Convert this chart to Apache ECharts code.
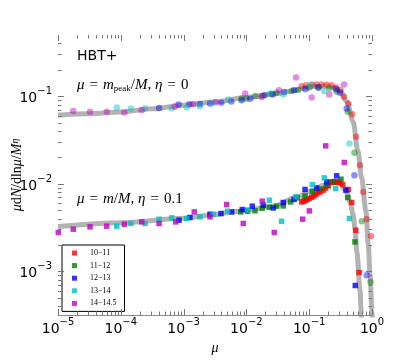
<!DOCTYPE html>
<html><head><meta charset="utf-8">
<script src="https://cdn.jsdelivr.net/npm/echarts@6/dist/echarts.min.js"></script>
<style>html,body{margin:0;padding:0;background:#fff}#c{width:415px;height:363px}</style>
</head><body><div id="c"></div>
<script>
// ---- legend / bins ----
const binLabels = ['10\u221211', '11\u221212', '12\u221213', '13\u221214', '14\u221214.5'];
const binColors = ['#ff0000', '#008000', '#0000ff', '#00bfbf', '#bf00bf'];

// ---- axis ranges / tick positions ----
const xMin = 1e-5, xMax = 1;
const yMin = 0.000316, yMax = 0.5;
const xDecades = [1e-5, 1e-4, 1e-3, 1e-2, 1e-1, 1];
const yDecades = [1e-4, 1e-3, 1e-2, 1e-1, 1];
const minorMultipliers = [2, 3, 4, 5, 6, 7, 8, 9];

// ---- fitted curves (grey) ----
const fitPeak = [[1e-5,0.0607],[3.16e-5,0.0631],[1e-4,0.0661],[3.16e-4,0.0716],[1e-3,0.0789],[3.16e-3,0.0861],[1e-2,0.0966],[0.0316,0.1074],[0.0501,0.114],[0.1,0.1276],[0.141,0.130],[0.1995,0.130],[0.251,0.1245],[0.316,0.114],[0.398,0.0861],[0.501,0.0513],[0.592,0.0242],[0.686,0.01148],[0.802,0.00479],[0.873,0.0020],[0.929,0.000942],[1.0,0.000355],[1.023,0.000282]];
const fitInfall = [[1e-5,0.00324],[1e-4,0.00359],[1e-3,0.00403],[2.51e-3,0.00437],[8.41e-3,0.00489],[0.0282,0.00557],[0.0631,0.00706],[0.1161,0.00843],[0.1675,0.00962],[0.242,0.0107],[0.309,0.01005],[0.395,0.00805],[0.447,0.00619],[0.504,0.00437],[0.536,0.00308],[0.575,0.00166],[0.644,0.000607],[0.676,0.000316],[0.692,0.000251]];

// ---- mu = m_peak/M, eta = 0 (circles) ----
const peak10_11 = [[0.0759,0.130],[0.0891,0.1337],[0.1122,0.1349],[0.1318,0.1361],[0.1585,0.1361],[0.1905,0.1349],[0.229,0.1334],[0.269,0.1259],[0.316,0.1175],[0.358,0.0982],[0.42,0.0826],[0.485,0.0622],[0.556,0.0343],[0.646,0.01626],[0.726,0.00805],[0.822,0.00393],[0.964,0.00253]];
const peak11_12 = [[8.32e-3,0.0933],[0.01,0.0933],[0.0138,0.1007],[0.0178,0.1012],[0.0251,0.1059],[0.0302,0.1096],[0.0525,0.1148],[0.0661,0.1175],[0.1,0.1259],[0.138,0.1259],[0.209,0.123],[0.275,0.1122],[0.41,0.0662],[0.525,0.0226],[0.686,0.00372],[0.946,0.000755]];
const peak12_13 = [[4.07e-4,0.0735],[8.32e-4,0.0804],[1.23e-3,0.0811],[1.82e-3,0.0813],[2.63e-3,0.0826],[3.98e-3,0.0841],[5.75e-3,0.0871],[8.41e-3,0.0899],[0.01148,0.0933],[0.0195,0.1023],[0.0263,0.1047],[0.0398,0.1119],[0.0575,0.1175],[0.0871,0.1202],[0.1413,0.1259],[0.267,0.1202],[0.309,0.1096],[0.395,0.0723],[0.525,0.0125],[0.822,0.0009]];
const peak13_14 = [[8.61e-5,0.0743],[1.45e-4,0.0723],[2.43e-4,0.0723],[6.46e-4,0.0723],[1.12e-3,0.0741],[1.82e-3,0.0769],[2.82e-3,0.0832],[5.13e-3,0.0916],[0.0238,0.1074],[0.0389,0.1047],[0.1057,0.1349],[0.1738,0.114],[0.437,0.0288]];
const peak14_145 = [[1.75e-5,0.0675],[3.24e-5,0.0662],[5.96e-5,0.0662],[1.14e-4,0.0652],[2.15e-4,0.0692],[7.24e-4,0.0759],[1.41e-3,0.0813],[3.24e-3,0.0851],[9.55e-3,0.1074],[0.0174,0.0977],[0.0331,0.1172],[0.0617,0.1637],[0.1096,0.0966],[0.209,0.1047],[0.358,0.1361]];

// ---- mu = m/M, eta = 0.1 (squares) ----
const infall10_11 = [[0.0759,0.00619],[0.0813,0.0063],[0.0871,0.00646],[0.0933,0.0066],[0.1005,0.00678],[0.1096,0.007],[0.1191,0.00724],[0.1288,0.0076],[0.1396,0.00794],[0.1514,0.0081],[0.1675,0.00843],[0.182,0.0089],[0.2014,0.00944],[0.2275,0.01033],[0.245,0.0104],[0.263,0.01047],[0.282,0.0104],[0.302,0.01033],[0.341,0.00977],[0.42,0.00859],[0.475,0.0061],[0.55,0.00294],[0.624,0.000966]];
const infall11_12 = [[8.13e-3,0.00476],[0.01047,0.00485],[0.01371,0.0049],[0.0179,0.00525],[0.0232,0.00537],[0.0303,0.00553],[0.0387,0.00557],[0.0507,0.00619],[0.0646,0.00689],[0.0857,0.00724],[0.1122,0.00813],[0.1486,0.00865],[0.19,0.00955],[0.242,0.0105],[0.321,0.01125],[0.41,0.00695],[0.536,0.00216]];
const infall12_13 = [[8.45e-4,0.00383],[1.26e-3,0.00411],[2.63e-3,0.00448],[3.94e-3,0.00456],[5.82e-3,0.00476],[8.61e-3,0.00507],[0.0124,0.00553],[0.0186,0.00568],[0.0269,0.00528],[0.0387,0.0061],[0.0575,0.00661],[0.0857,0.00859],[0.1312,0.00895],[0.1905,0.0105],[0.274,0.0123],[0.385,0.00843],[0.542,0.000687]];
const infall13_14 = [[8.61e-5,0.00327],[1.45e-4,0.00351],[2.43e-4,0.00351],[4.07e-4,0.00393],[6.46e-4,0.00407],[1.12e-3,0.0040],[1.82e-3,0.00418],[2.95e-3,0.00447],[5.01e-3,0.00485],[0.01047,0.00501],[0.0232,0.00647],[0.0363,0.00372],[0.0617,0.00708],[0.1122,0.00977],[0.1738,0.01164],[0.264,0.00881],[0.437,0.0040]];
const infall14_145 = [[1.01e-5,0.00277],[1.75e-5,0.00302],[3.24e-5,0.00321],[5.96e-5,0.00327],[1.14e-4,0.00344],[2.15e-4,0.00366],[4.07e-4,0.00351],[7.48e-4,0.00366],[1.48e-3,0.00476],[2.63e-3,0.00418],[4.85e-3,0.00578],[8.91e-3,0.00351],[0.0179,0.00631],[0.0278,0.00277],[0.0787,0.00393],[0.1005,0.00489],[0.1832,0.02704],[0.362,0.01746]];

const peakSets = [peak10_11, peak11_12, peak12_13, peak13_14, peak14_145];
const infallSets = [infall10_11, infall11_12, infall12_13, infall13_14, infall14_145];

// ---- ticks (positions on axes) ----
const tickData = [];
xDecades.forEach(d => {
  tickData.push([d, yMin, 0, 1]);
  minorMultipliers.forEach(m => { const v = d * m; if (v < xMax) tickData.push([v, yMin, 0, 0]); });
});
yDecades.forEach(d => {
  if (d >= yMin && d <= yMax) tickData.push([xMin, d, 1, 1]);
  minorMultipliers.forEach(m => { const v = d * m / 10; if (v > yMin && v < yMax) tickData.push([xMin, v, 1, 0]); });
});

function supLabel(v) {
  const l = Math.log10(v), e = Math.round(l);
  if (Math.abs(l - e) > 1e-6) return '';
  return '{b|10}{s|' + (e < 0 ? '\u2212' + (-e) : String(e)) + '}';
}
const supRich = {
  b: { fontFamily: 'DejaVu Sans', fontSize: 14, lineHeight: 19, color: '#000', verticalAlign: 'bottom' },
  s: { fontFamily: 'DejaVu Sans', fontSize: 10, lineHeight: 10, color: '#000', verticalAlign: 'top' }
};
const serifI = { fontFamily: 'Liberation Serif', fontStyle: 'italic', fontSize: 15, color: '#000' };
const serifR = { fontFamily: 'Liberation Serif', fontSize: 15, color: '#000' };
const axI = { fontFamily: 'Liberation Serif', fontStyle: 'italic', fontSize: 14, color: '#000' };
const axR = { fontFamily: 'Liberation Serif', fontSize: 14, color: '#000' };
const EQ = '\u2004=\u2004';

const series = [];
series.push({ type: 'line', name: 'fitPeak', data: fitPeak, showSymbol: false, smooth: 0.3, smoothMonotone: 'x', z: 1,
  lineStyle: { color: 'rgba(128,128,128,0.6)', width: 5 }, silent: true });
series.push({ type: 'line', name: 'fitInfall', data: fitInfall, showSymbol: false, smooth: 0.3, smoothMonotone: 'x', z: 1,
  lineStyle: { color: 'rgba(128,128,128,0.6)', width: 5 }, silent: true });
peakSets.forEach((d, i) => series.push({ type: 'scatter', name: 'peak' + i, data: d, symbol: 'circle', symbolSize: 6.5, z: 3,
  itemStyle: { color: binColors[i], opacity: 0.45 } }));
infallSets.forEach((d, i) => series.push({ type: 'scatter', name: binLabels[i], data: d, symbol: 'rect', symbolSize: 5.5, z: 4,
  itemStyle: { color: binColors[i] } }));
series.push({
  type: 'custom', name: 'ticks', data: tickData, clip: false, silent: true, z: 5,
  encode: { x: 0, y: 1 },
  renderItem: function (params, api) {
    const cs = params.coordSys;
    const kind = api.value(2), major = api.value(3);
    const len = major ? 6 : 3.5;
    const st = { stroke: '#777', lineWidth: 1 };
    if (kind === 0) {
      const px = Math.round(api.coord([api.value(0), yMax])[0]) + 0.5;
      return { type: 'group', children: [
        { type: 'line', shape: { x1: px, y1: cs.y + cs.height, x2: px, y2: cs.y + cs.height - len }, style: st },
        { type: 'line', shape: { x1: px, y1: cs.y, x2: px, y2: cs.y + len }, style: st }
      ] };
    } else {
      const py = Math.round(api.coord([xMin, api.value(1)])[1]) + 0.5;
      return { type: 'group', children: [
        { type: 'line', shape: { x1: cs.x, y1: py, x2: cs.x + len, y2: py }, style: st },
        { type: 'line', shape: { x1: cs.x + cs.width, y1: py, x2: cs.x + cs.width - len, y2: py }, style: st }
      ] };
    }
  }
});

const chart = echarts.init(document.getElementById('c'), null, { renderer: 'canvas' });
chart.setOption({
  animation: false,
  backgroundColor: '#fff',
  grid: { left: 58, right: 43, top: 35, bottom: 48, containLabel: false, outerBoundsMode: 'none' },
  xAxis: {
    type: 'log', logBase: 10, min: xMin, max: xMax,
    axisLine: { show: true, onZero: false, lineStyle: { color: '#888', width: 1 } },
    axisTick: { show: false }, splitLine: { show: false }, minorTick: { show: false },
    axisLabel: { formatter: supLabel, rich: supRich, margin: 2 },
    name: 'μ', nameLocation: 'middle', nameGap: 24,
    nameTextStyle: { fontFamily: 'Liberation Serif', fontStyle: 'italic', fontSize: 14, color: '#000' }
  },
  yAxis: {
    type: 'log', logBase: 10, min: yMin, max: yMax,
    axisLine: { show: false }, axisTick: { show: false }, splitLine: { show: false }, minorTick: { show: false },
    axisLabel: { formatter: supLabel, rich: supRich, margin: 6, showMinLabel: false, showMaxLabel: false },
    name: '{i|μ}{r|d}{i|N}{r|/dln}{i|μ}{r|/}{i|M}{s|η}', nameLocation: 'middle', nameGap: 34, nameRotate: 90,
    nameMoveOverlap: false,
    nameTextStyle: { rich: { i: axI, r: axR,
      s: { fontFamily: 'Liberation Serif', fontStyle: 'italic', fontSize: 10, verticalAlign: 'top', lineHeight: 10, color: '#000' } } }
  },
  legend: {
    data: binLabels, orient: 'vertical', left: 62, top: 245,
    padding: [3, 8, 3, 10], itemGap: 2.6, itemWidth: 5, itemHeight: 5, icon: 'rect',
    borderColor: '#000', borderWidth: 1, borderRadius: 0, backgroundColor: '#fff',
    textStyle: { fontFamily: 'Liberation Serif', fontSize: 8, lineHeight: 10, color: '#000', padding: [0, 0, 0, 8] },
    selectedMode: false
  },
  graphic: [
    { type: 'text', left: 77, top: 49, style: { text: 'HBT+', font: '14px "DejaVu Sans"', fill: '#000' } },
    { type: 'text', left: 77, top: 78, style: {
      text: '{i|μ}{r|' + EQ + '}{i|m}{sub|peak}{r|/}{i|M}{r|, }{i|η}{r|' + EQ + '0}',
      rich: { i: serifI, r: serifR, sub: { fontFamily: 'Liberation Serif', fontSize: 9, verticalAlign: 'bottom', lineHeight: 13, color: '#000' } } } },
    { type: 'text', left: 77, top: 192, style: {
      text: '{i|μ}{r|' + EQ + '}{i|m}{r|/}{i|M}{r|, }{i|η}{r|' + EQ + '0.1}',
      rich: { i: serifI, r: serifR } } }
  ],
  series: series
});
</script>
</body></html>
